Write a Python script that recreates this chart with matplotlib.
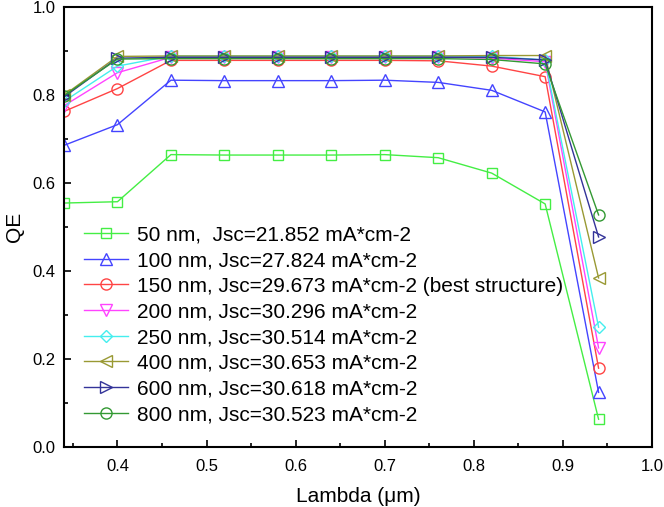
import matplotlib
matplotlib.use('Agg')
import matplotlib.pyplot as plt
from matplotlib.ticker import MultipleLocator

plt.rcParams['font.family'] = ['Liberation Sans', 'DejaVu Sans']

# wavelength points (um)
wavelength = [0.34, 0.40, 0.46, 0.52, 0.58, 0.64, 0.70, 0.76, 0.82, 0.88, 0.94]

qe_50 = [0.555, 0.558, 0.665, 0.664, 0.664, 0.664, 0.665, 0.658, 0.623, 0.553, 0.064]
qe_100 = [0.686, 0.733, 0.834, 0.833, 0.833, 0.833, 0.834, 0.829, 0.811, 0.762, 0.125]
qe_150 = [0.763, 0.815, 0.879, 0.879, 0.879, 0.879, 0.879, 0.878, 0.866, 0.842, 0.180]
qe_200 = [0.776, 0.851, 0.886, 0.886, 0.886, 0.886, 0.886, 0.886, 0.884, 0.876, 0.226]
qe_250 = [0.786, 0.866, 0.889, 0.889, 0.889, 0.889, 0.889, 0.889, 0.888, 0.880, 0.273]
qe_400 = [0.800, 0.888, 0.889, 0.889, 0.889, 0.889, 0.889, 0.889, 0.890, 0.890, 0.385]
qe_600 = [0.796, 0.884, 0.886, 0.886, 0.886, 0.886, 0.886, 0.886, 0.886, 0.880, 0.478]
qe_800 = [0.799, 0.882, 0.883, 0.883, 0.883, 0.883, 0.883, 0.883, 0.881, 0.871, 0.528]

labels = [
    '50 nm,  Jsc=21.852 mA*cm-2',
    '100 nm, Jsc=27.824 mA*cm-2',
    '150 nm, Jsc=29.673 mA*cm-2 (best structure)',
    '200 nm, Jsc=30.296 mA*cm-2',
    '250 nm, Jsc=30.514 mA*cm-2',
    '400 nm, Jsc=30.653 mA*cm-2',
    '600 nm, Jsc=30.618 mA*cm-2',
    '800 nm, Jsc=30.523 mA*cm-2',
]
series = [qe_50, qe_100, qe_150, qe_200, qe_250, qe_400, qe_600, qe_800]
colors = ['#44ee44', '#4444ff', '#ff4444', '#ff44ff', '#44eeee', '#999933', '#333399', '#339933']
markers = ['s', '^', 'o', 'v', 'D', '<', '>', 'o']
sizes = [7, 8, 8, 8, 6.5, 8, 8, 8]

fig = plt.figure(figsize=(6.64, 5.07), dpi=100)
ax = fig.add_axes([0.0964, 0.1175, 0.8856, 0.8685])

for y, lab, c, m, s in zip(series, labels, colors, markers, sizes):
    ax.plot(wavelength, y, color=c, marker=m, markersize=s, markerfacecolor='none',
            markeredgecolor=c, markeredgewidth=1.0, linewidth=1.0, label=lab)

ax.set_xlim(0.34, 1.0)
ax.set_ylim(0.0, 1.0)
ax.xaxis.set_major_locator(MultipleLocator(0.1))
ax.xaxis.set_minor_locator(MultipleLocator(0.05))
ax.yaxis.set_major_locator(MultipleLocator(0.2))
ax.yaxis.set_minor_locator(MultipleLocator(0.1))
ax.tick_params(which='both', direction='in', top=False, right=False, labelsize=12)
ax.tick_params(which='major', length=5, width=1.2)
ax.tick_params(which='minor', length=3, width=1.2)
ax.set_xticks([0.4, 0.5, 0.6, 0.7, 0.8, 0.9, 1.0])
ax.set_xticklabels(['0.4', '0.5', '0.6', '0.7', '0.8', '0.9', '1.0'])
ax.tick_params(axis='x', pad=8)
ax.tick_params(axis='y', pad=6)
for sp in ax.spines.values():
    sp.set_linewidth(1.5)

ax.set_xlabel('Lambda (\u03bcm)', fontsize=15, labelpad=10)
ax.set_ylabel('QE', fontsize=15, labelpad=6)

ax.legend(loc='lower left', bbox_to_anchor=(0.01, 0.02), frameon=False, fontsize=15,
          handlelength=2.1, handletextpad=0.4, labelspacing=0.32, borderpad=0.2)

fig.savefig('out.png', dpi=100)
